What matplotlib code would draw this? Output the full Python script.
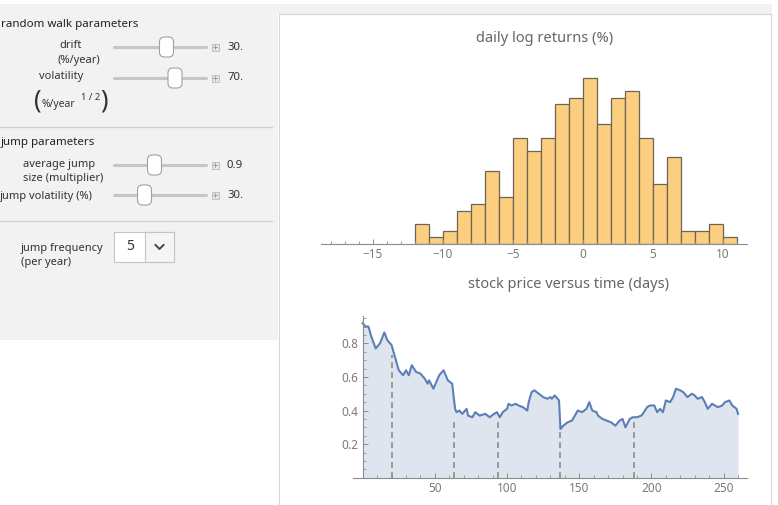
import numpy as np
import matplotlib
matplotlib.use("Agg")
import matplotlib.pyplot as plt
from matplotlib.patches import Rectangle, FancyBboxPatch
from matplotlib.ticker import MultipleLocator

W, H = 778, 505

# histogram: daily log returns (%), unit bins from -12 to 11
bin_edges = list(range(-12, 12))
counts = [3, 1, 2, 5, 6, 11, 7, 16, 14, 16, 21, 22, 25, 18, 22, 23, 16, 9, 13, 2, 2, 3, 1]

# stock price
days = [0, 1, 2, 4, 6, 9, 12, 15, 17, 20, 22, 25, 28, 30, 32, 34, 37, 40, 43, 45,
        46, 49, 51, 53, 56, 59, 62, 64, 65, 67, 69, 71, 72, 73, 76, 78, 81, 85, 88,
        91, 93, 95, 97, 100, 101, 103, 106, 108, 111, 114, 115, 117, 119, 122, 125,
        128, 130, 131, 133, 136, 137, 139, 142, 145, 149, 152, 155, 157, 159, 162,
        163, 166, 169, 172, 175, 178, 180, 182, 185, 187, 190, 193, 194, 197, 199,
        202, 204, 206, 208, 210, 213, 215, 217, 220, 222, 225, 228, 230, 232, 235,
        237, 239, 242, 244, 246, 249, 251, 254, 256, 259, 260]
prices = [0.92, 0.91, 0.90, 0.90, 0.84, 0.77, 0.80, 0.865, 0.82, 0.79, 0.73, 0.64,
          0.61, 0.64, 0.61, 0.67, 0.63, 0.62, 0.59, 0.56, 0.58, 0.53, 0.57, 0.61,
          0.64, 0.58, 0.56, 0.41, 0.39, 0.40, 0.38, 0.40, 0.41, 0.37, 0.36, 0.39,
          0.37, 0.38, 0.36, 0.38, 0.39, 0.36, 0.39, 0.41, 0.44, 0.43, 0.44, 0.43,
          0.42, 0.40, 0.45, 0.51, 0.52, 0.50, 0.48, 0.47, 0.48, 0.47, 0.49, 0.46,
          0.29, 0.31, 0.33, 0.34, 0.40, 0.39, 0.41, 0.45, 0.40, 0.39, 0.37, 0.35,
          0.34, 0.33, 0.31, 0.34, 0.35, 0.30, 0.35, 0.36, 0.36, 0.37, 0.38, 0.42,
          0.43, 0.43, 0.39, 0.41, 0.39, 0.46, 0.45, 0.48, 0.53, 0.52, 0.51, 0.48,
          0.50, 0.49, 0.47, 0.48, 0.45, 0.41, 0.44, 0.43, 0.42, 0.43, 0.45, 0.46,
          0.43, 0.41, 0.38]

jump_days = [20, 63, 94, 137, 188]
jump_tops = [0.73, 0.34, 0.355, 0.30, 0.355]

plt.rcParams["font.family"] = ["Noto Sans", "DejaVu Sans"]

fig = plt.figure(figsize=(W / 100, H / 100), dpi=100)
fig.patch.set_facecolor("white")

# pixel-space overlay for the control panel and frames
bg = fig.add_axes([0, 0, 1, 1], zorder=0)
bg.set_xlim(0, W)
bg.set_ylim(H, 0)
bg.axis("off")

bg.add_patch(Rectangle((0, 4), 278, 336, fc="#f2f2f2", ec="none"))
bg.add_patch(Rectangle((278, 4), 494, 10, fc="#f2f2f2", ec="none"))
bg.add_patch(Rectangle((279, 14), 492, 495, fc="white", ec="#d6d6d6", lw=0.8))

txt = dict(fontsize=8, color="#333333")
head = dict(fontsize=8.3, fontweight="bold", color="#222222", va="center")
bg.text(1, 24, "random walk parameters", **head)
bg.text(71, 46, "drift", ha="center", va="center", **txt)
bg.text(79, 60, "(%/year)", ha="center", va="center", **txt)
bg.text(61, 77, "volatility", ha="center", va="center", **txt)
bg.text(34, 101, "(", fontsize=18, color="#333333", va="center", fontweight="light")
bg.text(42, 104, "%/year", fontsize=7.4, color="#333333", va="center")
bg.text(81, 98, "1 / 2", fontsize=6.8, color="#333333", va="center")
bg.text(100, 101, ")", fontsize=18, color="#333333", va="center", fontweight="light")
bg.plot([0, 272], [127, 127], color="#cfcfcf", lw=0.9)

bg.text(1, 142, "jump parameters", **head)
bg.text(23, 164, "average jump", ha="left", va="center", **txt)
bg.text(23, 178, "size (multiplier)", ha="left", va="center", **txt)
bg.text(0, 196, "jump volatility (%)", ha="left", va="center", **txt)
bg.plot([0, 272], [221, 221], color="#cfcfcf", lw=0.9)

bg.text(21, 249, "jump frequency", ha="left", va="center", **txt)
bg.text(21, 263, "(per year)", ha="left", va="center", **txt)


def slider(y, thumb_x, value):
    bg.plot([114, 206], [y, y], color="#c6c6c6", lw=2.2, solid_capstyle="round", zorder=2)
    bg.add_patch(FancyBboxPatch((thumb_x - 7, y - 10), 14, 20,
                                boxstyle="round,pad=0,rounding_size=5",
                                fc="white", ec="#a0a0a0", lw=0.8, zorder=3))
    bg.add_patch(Rectangle((212, y - 3.5), 7, 7, fc="#e6e6e6", ec="#bbbbbb", lw=0.6, zorder=3))
    bg.plot([213.5, 217.5], [y, y], color="#9a9a9a", lw=0.6, zorder=4)
    bg.plot([215.5, 215.5], [y - 2, y + 2], color="#9a9a9a", lw=0.6, zorder=4)
    bg.text(227, y, value, fontsize=8.2, color="#333333", va="center", ha="left")


slider(47, 166.5, "30.")
slider(78, 175, "70.")
slider(165, 154.5, "0.9")
slider(195, 144.5, "30.")

# jump frequency dropdown
bg.add_patch(Rectangle((114, 232), 60, 30, fc="white", ec="#c4c4c4", lw=0.8, zorder=2))
bg.add_patch(Rectangle((145, 232), 29, 30, fc="#f5f5f5", ec="#c4c4c4", lw=0.8, zorder=2))
bg.text(130, 246, "5", fontsize=10, color="#333333", ha="center", va="center", zorder=3)
bg.plot([155.5, 159.5, 163.5], [245, 249, 245], color="#444444", lw=1.4, zorder=3)


def px_axes(x0, y0, x1, y1):
    return [x0 / W, 1 - y1 / H, (x1 - x0) / W, (y1 - y0) / H]


gray = "#8c8c8c"
lab = "#7a7a7a"

# histogram
ax1 = fig.add_axes(px_axes(321.2, 71, 746.8, 244), zorder=2)
ax1.patch.set_alpha(0)
ax1.hist(np.array(bin_edges[:-1]) + 0.5, bins=bin_edges, weights=counts,
         color="#fbcf7f", edgecolor="#6e6455", linewidth=0.9)
ax1.set_xlim(-18.7, 11.7)
ax1.set_ylim(0, 26)
for s in ("top", "right", "left"):
    ax1.spines[s].set_visible(False)
ax1.spines["bottom"].set_color(gray)
ax1.spines["bottom"].set_linewidth(0.8)
ax1.set_yticks([])
ax1.xaxis.set_major_locator(MultipleLocator(5))
ax1.xaxis.set_minor_locator(MultipleLocator(1))
ax1.tick_params(axis="x", which="major", direction="in", length=3.5, width=0.7,
                color=gray, labelcolor=lab, labelsize=8.5, pad=3)
ax1.tick_params(axis="x", which="minor", direction="in", length=2.3, width=0.6, color=gray)
bg.text(545, 38, "daily log returns (%)", fontsize=10.5, color="#666666",
        ha="center", va="center")

# stock price
ax2 = fig.add_axes(px_axes(353, 316, 746.7, 477.7), zorder=2)
ax2.patch.set_alpha(0)
ax2.fill_between(days, prices, 0, color="#dfe5ef", lw=0)
ax2.vlines(jump_days, 0, jump_tops, colors="#8a8a8a", linestyles=(0, (3.5, 2.5)), lw=1.2)
ax2.plot(days, prices, color="#5b7fb6", lw=1.5)
ax2.set_xlim(-6.7, 266)
ax2.set_ylim(0, 0.963)
for s in ("top", "right"):
    ax2.spines[s].set_visible(False)
ax2.spines["left"].set_position(("data", 0))
for s in ("left", "bottom"):
    ax2.spines[s].set_color(gray)
    ax2.spines[s].set_linewidth(0.8)
ax2.xaxis.set_major_locator(MultipleLocator(50))
ax2.xaxis.set_minor_locator(MultipleLocator(10))
ax2.yaxis.set_major_locator(MultipleLocator(0.2))
ax2.yaxis.set_minor_locator(MultipleLocator(0.05))
ax2.set_xticks([50, 100, 150, 200, 250])
ax2.set_yticks([0.2, 0.4, 0.6, 0.8])
ax2.set_yticklabels(["0.2", "0.4", "0.6", "0.8"])
ax2.tick_params(which="major", direction="in", length=3.5, width=0.7,
                color=gray, labelcolor=lab, labelsize=8.5, pad=3)
ax2.tick_params(which="minor", direction="in", length=2.5, width=0.6, color=gray)
bg.text(569, 285, "stock price versus time (days)", fontsize=10.5, color="#666666",
        ha="center", va="center")

fig.savefig("out.png", dpi=100)
